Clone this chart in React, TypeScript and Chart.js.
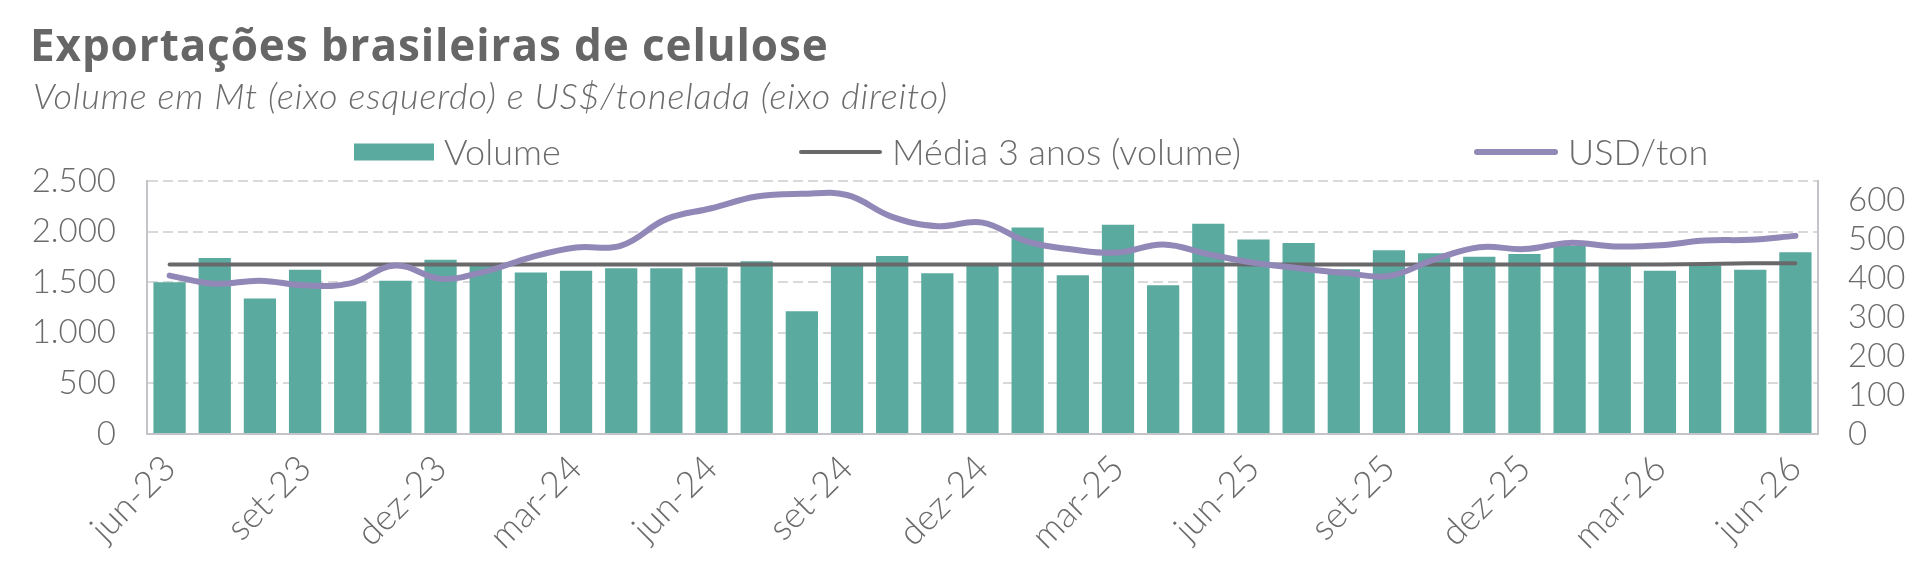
import React, { useEffect, useRef } from 'react';
import { Chart, registerables } from 'chart.js';

Chart.register(...registerables);

const categories = [
  'jun-23', 'jul-23', 'ago-23', 'set-23', 'out-23', 'nov-23', 'dez-23',
  'jan-24', 'fev-24', 'mar-24', 'abr-24', 'mai-24', 'jun-24', 'jul-24', 'ago-24', 'set-24', 'out-24', 'nov-24', 'dez-24',
  'jan-25', 'fev-25', 'mar-25', 'abr-25', 'mai-25', 'jun-25', 'jul-25', 'ago-25', 'set-25', 'out-25', 'nov-25', 'dez-25',
  'jan-26', 'fev-26', 'mar-26', 'abr-26', 'mai-26', 'jun-26',
];

const volume = [
  1500, 1740, 1338, 1624, 1312, 1515, 1722,
  1665, 1596, 1612, 1638, 1638, 1648, 1706, 1213, 1660, 1758, 1588, 1660,
  2041, 1569, 2067, 1470, 2077, 1922, 1888, 1629, 1815, 1786, 1751, 1779,
  1860, 1660, 1612, 1665, 1624, 1797,
];

const media3anos = [
  1675, 1675, 1675, 1675, 1675, 1675, 1675,
  1675, 1675, 1675, 1675, 1675, 1675, 1675, 1675, 1675, 1675, 1675, 1675,
  1675, 1675, 1675, 1675, 1675, 1675, 1675, 1675, 1675, 1675, 1675, 1675,
  1675, 1675, 1675, 1680, 1687, 1687,
];

const usdTon = [
  407, 386, 394, 382, 387, 433, 399,
  418, 454, 479, 484, 552, 580, 610, 617, 614, 558, 534, 543,
  494, 474, 466, 487, 462, 440, 426, 414, 406, 448, 480, 475,
  491, 482, 485, 497, 499, 509,
];

const leftTicks = [0, 500, 1000, 1500, 2000, 2500];
const rightTicks = [0, 100, 200, 300, 400, 500, 600];

const seriesLabels = ['Volume', 'Média 3 anos (volume)', 'USD/ton'];

const FONT = 'Lato, "Open Sans", "DejaVu Sans", sans-serif';
const TITLE_FONT = '"Open Sans", Lato, "DejaVu Sans", sans-serif';
const TEXT = '#6b6b6b';
const TEAL = '#5aaa9f';
const GRAY_LINE = '#69696c';
const PURPLE = '#9188b7';
const GRID = '#d9d9d9';
const AXIS = '#c4c4c8';

const fmt = (v: number) => String(v).replace(/\B(?=(\d{3})+(?!\d))/g, '.');

// legend layout (marker kind, marker width, stroke, left offset of each item)
const legendMarkers = [
  { kind: 'box', w: 80, color: TEAL, lw: 17, left: 354 },
  { kind: 'line', w: 83, color: GRAY_LINE, lw: 4, left: 799 },
  { kind: 'line', w: 84, color: PURPLE, lw: 6, left: 1474 },
];

const legendPlugin = {
  id: 'refLegend',
  afterDraw(chart: any) {
    const ctx = chart.ctx as CanvasRenderingContext2D;
    ctx.save();
    ctx.font = `300 36px ${FONT}`;
    ctx.textBaseline = 'middle';
    ctx.textAlign = 'left';
    const gapText = 10;
    const cy = 152;
    seriesLabels.forEach((t, i) => {
      const m = legendMarkers[i];
      const x = m.left;
      if (m.kind === 'box') {
        ctx.fillStyle = m.color;
        ctx.fillRect(x, cy - 8.5, m.w, 17);
      } else {
        ctx.strokeStyle = m.color;
        ctx.lineWidth = m.lw;
        ctx.lineCap = 'round';
        ctx.beginPath();
        ctx.moveTo(x + m.lw / 2, cy);
        ctx.lineTo(x + m.w - m.lw / 2, cy);
        ctx.stroke();
      }
      ctx.fillStyle = TEXT;
      ctx.fillText(t, x + m.w + gapText, cy + 1);
    });
    ctx.restore();
  },
};

export default function App() {
  const canvasRef = useRef<HTMLCanvasElement | null>(null);

  useEffect(() => {
    document.body.style.margin = '0';
    const canvas = canvasRef.current;
    if (!canvas) return;
    const chart = new Chart(canvas, {
      type: 'bar',
      data: {
        labels: categories,
        datasets: [
          {
            type: 'line',
            label: seriesLabels[2],
            data: usdTon,
            yAxisID: 'y1',
            borderColor: PURPLE,
            backgroundColor: PURPLE,
            borderWidth: 6,
            pointRadius: 0,
            tension: 0.4,
            borderCapStyle: 'round',
            borderJoinStyle: 'round',
            order: 1,
          },
          {
            type: 'line',
            label: seriesLabels[1],
            data: media3anos,
            yAxisID: 'y',
            borderColor: GRAY_LINE,
            backgroundColor: GRAY_LINE,
            borderWidth: 4,
            pointRadius: 0,
            tension: 0,
            borderCapStyle: 'round',
            order: 2,
          },
          {
            type: 'bar',
            label: seriesLabels[0],
            data: volume,
            yAxisID: 'y',
            backgroundColor: TEAL,
            borderWidth: 0,
            barPercentage: 0.714,
            categoryPercentage: 1,
            order: 3,
          },
        ] as any,
      },
      options: {
        responsive: false,
        animation: false,
        devicePixelRatio: 1,
        layout: { padding: { top: 181, left: 0, right: 0, bottom: 0 } },
        plugins: {
          legend: { display: false },
          tooltip: { enabled: false },
          title: { display: false },
        },
        scales: {
          x: {
            type: 'category',
            offset: true,
            grid: { display: false, drawTicks: false },
            border: { display: true, color: AXIS, width: 2 },
            ticks: {
              autoSkip: false,
              maxRotation: 45,
              minRotation: 45,
              padding: 13,
              color: TEXT,
              font: { family: FONT, size: 36, weight: 300 as any },
              callback: (_v: any, i: number) => (i % 3 === 0 ? categories[i] : ''),
            },
            afterFit: (s: any) => { s.height = 143; },
          },
          y: {
            position: 'left',
            min: 0,
            max: 2500,
            afterBuildTicks: (s: any) => { s.ticks = leftTicks.map((v) => ({ value: v })); },
            grid: { color: GRID, lineWidth: 2, drawTicks: false },
            border: { display: true, color: AXIS, width: 2, dash: [10, 5] },
            ticks: {
              autoSkip: false,
              padding: 31,
              color: TEXT,
              font: { family: FONT, size: 33, weight: 300 as any, lineHeight: 1 },
              callback: (v: any) => fmt(Number(v)),
            },
            afterFit: (s: any) => { s.width = 147; },
          },
          y1: {
            position: 'right',
            min: 0,
            max: 650,
            afterBuildTicks: (s: any) => { s.ticks = rightTicks.map((v) => ({ value: v })); },
            grid: { display: false, drawTicks: false },
            border: { display: true, color: AXIS, width: 2 },
            ticks: {
              autoSkip: false,
              padding: 30,
              color: TEXT,
              font: { family: FONT, size: 33, weight: 300 as any, lineHeight: 1 },
              callback: (v: any) => String(v),
            },
            afterFit: (s: any) => { s.width = 102; },
          },
        },
      } as any,
      plugins: [legendPlugin],
    });
    return () => chart.destroy();
  }, []);

  return (
    <div style={{ position: 'relative', width: 1920, height: 577, background: '#fff', overflow: 'hidden' }}>
      <canvas ref={canvasRef} width={1920} height={577} style={{ display: 'block', width: 1920, height: 577 }} />
      <div
        style={{
          position: 'absolute', left: 30, top: 22, fontFamily: TITLE_FONT, fontWeight: 700, fontSize: 44,
          lineHeight: '44px', color: '#666666', whiteSpace: 'nowrap', letterSpacing: '0.9px',
        }}
      >
        Exportações brasileiras de celulose
      </div>
      <div
        style={{
          position: 'absolute', left: 33, top: 77, fontFamily: FONT, fontWeight: 300, fontStyle: 'italic',
          fontSize: 36, lineHeight: '36px', color: TEXT, whiteSpace: 'nowrap', letterSpacing: '0.9px',
        }}
      >
        Volume em Mt (eixo esquerdo) e US$/tonelada (eixo direito)
      </div>
    </div>
  );
}
